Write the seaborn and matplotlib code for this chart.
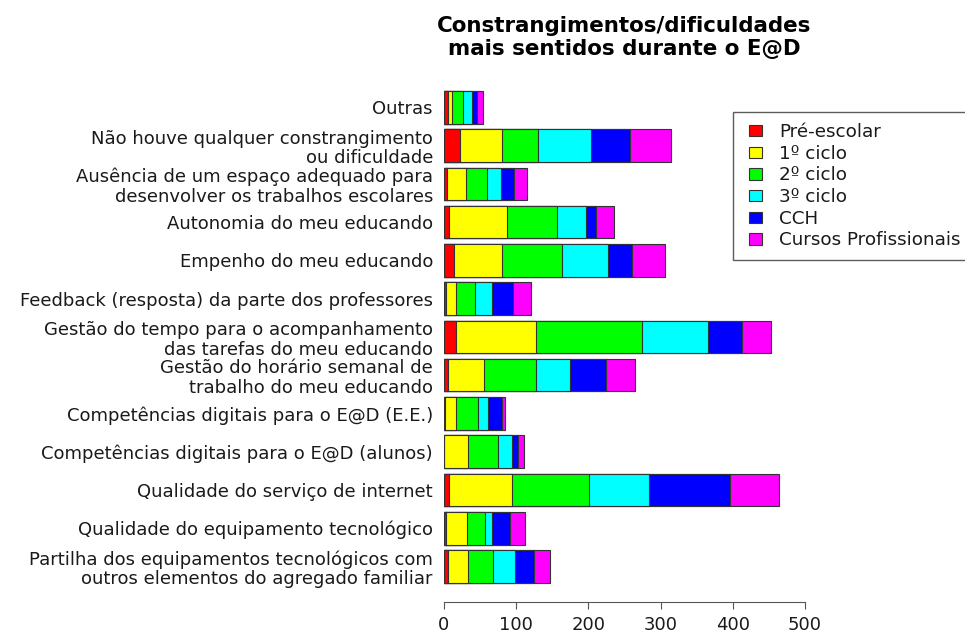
import numpy as np
import pandas as pd
import matplotlib
matplotlib.use("Agg")
import matplotlib.pyplot as plt
from matplotlib.patches import Patch, Rectangle
from matplotlib.legend_handler import HandlerPatch
import seaborn as sns

categories = [
    "Outras",
    "Não houve qualquer constrangimento\nou dificuldade",
    "Ausência de um espaço adequado para\ndesenvolver os trabalhos escolares",
    "Autonomia do meu educando",
    "Empenho do meu educando",
    "Feedback (resposta) da parte dos professores",
    "Gestão do tempo para o acompanhamento\ndas tarefas do meu educando",
    "Gestão do horário semanal de\ntrabalho do meu educando",
    "Competências digitais para o E@D (E.E.)",
    "Competências digitais para o E@D (alunos)",
    "Qualidade do serviço de internet",
    "Qualidade do equipamento tecnológico",
    "Partilha dos equipamentos tecnológicos com\noutros elementos do agregado familiar",
]

series_names = ["Pré-escolar", "1º ciclo", "2º ciclo", "3º ciclo", "CCH", "Cursos Profissionais"]

pre_escolar = [5, 22, 4, 7, 14, 3, 16, 5, 1, 0, 7, 3, 5]
ciclo1 = [6, 58, 27, 80, 66, 13, 112, 50, 15, 33, 87, 29, 28]
ciclo2 = [16, 50, 29, 69, 83, 27, 146, 73, 31, 42, 107, 25, 35]
ciclo3 = [12, 73, 19, 41, 64, 23, 91, 47, 14, 19, 83, 10, 31]
cch = [7, 54, 18, 14, 33, 30, 48, 50, 19, 8, 112, 24, 25]
profissionais = [8, 57, 18, 25, 46, 24, 40, 39, 5, 9, 68, 21, 23]

colors = ["#ff0000", "#ffff00", "#00ff00", "#00ffff", "#0000ff", "#ff00ff"]

df = pd.DataFrame(
    {name: vals for name, vals in zip(
        series_names,
        [pre_escolar, ciclo1, ciclo2, ciclo3, cch, profissionais])},
    index=categories,
)
cum = df.cumsum(axis=1)

sns.set_style("white")
plt.rcParams["font.family"] = ["DejaVu Sans"]

fig = plt.figure(figsize=(9.65, 6.33), dpi=100)
ax = fig.add_axes([0.4601, 0.0494, 0.3741, 0.8368])

# stacked bars: draw cumulative totals from the outermost segment inward
for name, color in reversed(list(zip(series_names, colors))):
    plot_df = pd.DataFrame({"categoria": categories, "valor": cum[name].values})
    sns.barplot(
        data=plot_df, y="categoria", x="valor", order=categories,
        orient="h", color=color, saturation=1, width=0.85,
        edgecolor="#333333", linewidth=0.8, ax=ax,
    )

ax.set_xlim(0, 500)
ax.set_ylim(12.92, -0.92)
ax.set_xticks([0, 100, 200, 300, 400, 500])
ax.set_xlabel("")
ax.set_ylabel("")
for side in ["top", "right", "left"]:
    ax.spines[side].set_visible(False)
ax.spines["bottom"].set_color("#555555")
ax.tick_params(axis="y", length=0, pad=8, labelsize=13.0, labelcolor="#1a1a1a")
ax.tick_params(axis="x", length=5, color="#555555", labelsize=13.0,
               labelcolor="#1a1a1a", bottom=True, pad=5)
for lab in ax.get_yticklabels():
    lab.set_linespacing(1.12)

ax.set_title("Constrangimentos/dificuldades\nmais sentidos durante o E@D",
             fontsize=15.4, fontweight="bold", pad=12, color="black")


def small_square(legend, orig_handle, xdescent, ydescent, width, height, fontsize):
    # key box sits at the right end of the handle area
    w = fontsize * 0.72
    h = fontsize * 0.62
    return Rectangle((-xdescent + width - w, -ydescent + (height - h) / 2), w, h)


handles = [Patch(facecolor=c, edgecolor="#333333", linewidth=0.8, label=n)
           for n, c in zip(series_names, colors)]
fig.legend(handles=handles, loc="upper left", bbox_to_anchor=(0.7596, 0.823),
           fontsize=13.2, frameon=True, fancybox=False, edgecolor="#333333",
           handlelength=1.0, handleheight=0.6, labelspacing=0.2,
           borderpad=0.6, handletextpad=0.93, borderaxespad=0,
           labelcolor="#1a1a1a",
           handler_map={Patch: HandlerPatch(patch_func=small_square)})

fig.savefig("out.png", dpi=100)
